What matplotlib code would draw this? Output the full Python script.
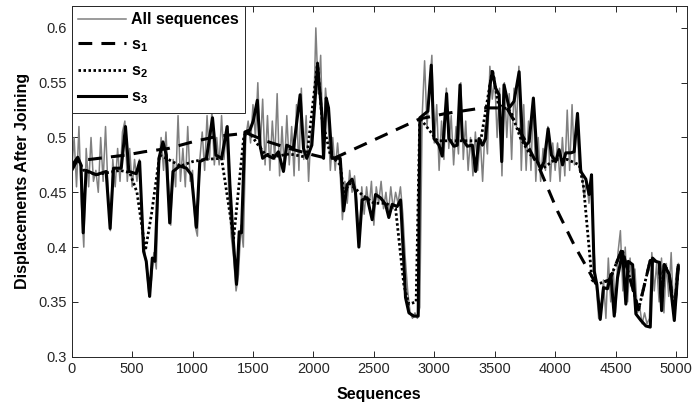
import numpy as np
import matplotlib.pyplot as plt

plt.rcParams['font.family'] = ['Liberation Sans', 'DejaVu Sans']
plt.rcParams['mathtext.fontset'] = 'custom'
plt.rcParams['mathtext.rm'] = 'Liberation Sans:bold'
plt.rcParams['mathtext.bf'] = 'Liberation Sans:bold'
plt.rcParams['mathtext.default'] = 'bf'

all_x = np.arange(0, 5021, 20)
all_y = [
    0.47, 0.50, 0.455, 0.51, 0.44, 0.40, 0.49, 0.455, 0.50, 0.46,
    0.47, 0.45, 0.50, 0.46, 0.51, 0.455, 0.415, 0.48, 0.455, 0.49,
    0.46, 0.505, 0.515, 0.46, 0.49, 0.455, 0.48, 0.46, 0.48, 0.43,
    0.40, 0.38, 0.355, 0.37, 0.395, 0.38, 0.47, 0.50, 0.47, 0.505,
    0.46, 0.42, 0.48, 0.455, 0.52, 0.46, 0.49, 0.455, 0.51, 0.46,
    0.47, 0.42, 0.41, 0.48, 0.505, 0.47, 0.52, 0.48, 0.525, 0.475,
    0.50, 0.475, 0.52, 0.48, 0.51, 0.45, 0.41, 0.39, 0.36, 0.375,
    0.42, 0.40, 0.50, 0.515, 0.495, 0.53, 0.50, 0.55, 0.49, 0.535,
    0.475, 0.52, 0.47, 0.515, 0.48, 0.54, 0.465, 0.51, 0.47, 0.52,
    0.475, 0.51, 0.465, 0.53, 0.47, 0.545, 0.48, 0.52, 0.46, 0.505,
    0.51, 0.60, 0.54, 0.575, 0.49, 0.545, 0.52, 0.47, 0.50, 0.47,
    0.495, 0.47, 0.425, 0.46, 0.44, 0.47, 0.45, 0.465, 0.44, 0.40,
    0.455, 0.43, 0.455, 0.435, 0.46, 0.42, 0.455, 0.44, 0.46, 0.435,
    0.45, 0.43, 0.455, 0.435, 0.45, 0.44, 0.455, 0.43, 0.39, 0.36,
    0.34, 0.335, 0.34, 0.335, 0.345, 0.52, 0.57, 0.51, 0.545, 0.575,
    0.495, 0.53, 0.47, 0.515, 0.48, 0.545, 0.49, 0.52, 0.475, 0.51,
    0.485, 0.55, 0.48, 0.515, 0.47, 0.50, 0.465, 0.505, 0.47, 0.50,
    0.46, 0.51, 0.485, 0.565, 0.535, 0.555, 0.50, 0.545, 0.465, 0.55,
    0.50, 0.54, 0.48, 0.545, 0.51, 0.565, 0.47, 0.53, 0.47, 0.515,
    0.47, 0.535, 0.46, 0.50, 0.46, 0.49, 0.47, 0.51, 0.46, 0.495,
    0.47, 0.495, 0.46, 0.50, 0.465, 0.525, 0.47, 0.53, 0.475, 0.52,
    0.47, 0.47, 0.445, 0.46, 0.44, 0.465, 0.40, 0.365, 0.335, 0.345,
    0.37, 0.335, 0.39, 0.35, 0.38, 0.34, 0.395, 0.415, 0.36, 0.40,
    0.35, 0.39, 0.36, 0.38, 0.34, 0.345, 0.33, 0.34, 0.33, 0.335,
    0.395, 0.36, 0.385, 0.35, 0.39, 0.34, 0.385, 0.355, 0.395, 0.34,
    0.375, 0.385,
]

s1_x = [0, 50, 150, 450, 600, 800, 1000, 1200, 1450, 1600, 1800, 2000, 2150,
        2880, 3100, 3400, 3600, 3743, 3881, 4019, 4157, 4295, 4340, 4450,
        4553, 4690, 4787, 4834, 4862, 4881, 4903, 4944, 4986, 5019]
s1_y = [0.47, 0.48, 0.48, 0.484, 0.487, 0.49, 0.496, 0.501, 0.504, 0.497,
        0.49, 0.484, 0.48, 0.517, 0.522, 0.527, 0.527, 0.499, 0.469, 0.433,
        0.402, 0.375, 0.366, 0.37, 0.398, 0.343, 0.388, 0.387, 0.386, 0.35,
        0.384, 0.375, 0.34, 0.383]

s2_x = [0, 50, 100, 200, 300, 400, 480, 540, 610, 660, 728, 800, 900, 1000,
        1100, 1240, 1340, 1425, 1470, 1530, 1600, 1700, 1800, 1945, 2034,
        2070, 2140, 2222, 2250, 2300, 2400, 2500, 2600, 2680, 2749, 2790,
        2850, 2880, 2970, 3025, 3384, 3481, 3530, 3632, 3715, 3790, 3850,
        3900, 4000, 4100, 4200, 4235, 4305, 4346, 4450, 4553, 4690, 4787,
        4834, 4862, 4881, 4903, 4944, 4986, 5019]
s2_y = [0.474, 0.48, 0.47, 0.466, 0.468, 0.47, 0.468, 0.45, 0.397, 0.43,
        0.484, 0.48, 0.474, 0.478, 0.48, 0.481, 0.408, 0.502, 0.505, 0.495,
        0.485, 0.483, 0.485, 0.482, 0.568, 0.518, 0.484, 0.475, 0.45, 0.458,
        0.448, 0.44, 0.44, 0.435, 0.365, 0.348, 0.35, 0.518, 0.505, 0.497,
        0.497, 0.562, 0.53, 0.524, 0.499, 0.485, 0.478, 0.472, 0.48, 0.48,
        0.475, 0.455, 0.37, 0.366, 0.37, 0.398, 0.343, 0.388, 0.387, 0.386,
        0.35, 0.384, 0.375, 0.34, 0.383]

s3_x = [0, 50, 77, 95, 119, 202, 285, 318, 346, 410, 445, 473, 534, 562, 595,
        617, 645, 667, 689, 722, 755, 783, 811, 838, 894, 949, 990, 1032,
        1060, 1115, 1165, 1193, 1240, 1287, 1309, 1336, 1364, 1386, 1405,
        1433, 1475, 1502, 1536, 1558, 1580, 1613, 1669, 1710, 1752, 1779,
        1835, 1890, 1918, 1945, 1987, 2034, 2070, 2084, 2106, 2125, 2153,
        2194, 2222, 2250, 2279, 2320, 2348, 2376, 2403, 2445, 2486, 2514,
        2555, 2597, 2624, 2652, 2693, 2721, 2749, 2762, 2790, 2831, 2867,
        2881, 2914, 2947, 2975, 2997, 3039, 3066, 3102, 3121, 3163, 3190,
        3213, 3232, 3273, 3315, 3342, 3370, 3398, 3425, 3461, 3481, 3508,
        3536, 3558, 3577, 3619, 3660, 3702, 3729, 3757, 3785, 3820, 3853,
        3881, 3909, 3942, 3969, 4005, 4033, 4061, 4088, 4130, 4157, 4185,
        4212, 4254, 4281, 4301, 4323, 4345, 4373, 4400, 4433, 4461, 4489,
        4516, 4558, 4585, 4605, 4641, 4668, 4710, 4751, 4787, 4806, 4834,
        4862, 4881, 4903, 4944, 4986, 5019]
s3_y = [0.474, 0.482, 0.475, 0.413, 0.47, 0.466, 0.469, 0.417, 0.472, 0.472,
        0.51, 0.469, 0.467, 0.478, 0.396, 0.387, 0.355, 0.39, 0.387, 0.481,
        0.496, 0.484, 0.422, 0.469, 0.474, 0.472, 0.466, 0.418, 0.478, 0.481,
        0.518, 0.484, 0.481, 0.51, 0.457, 0.408, 0.366, 0.414, 0.413, 0.505,
        0.507, 0.515, 0.534, 0.493, 0.481, 0.484, 0.481, 0.487, 0.469, 0.493,
        0.49, 0.539, 0.49, 0.481, 0.493, 0.566, 0.521, 0.481, 0.536, 0.527,
        0.481, 0.481, 0.481, 0.433, 0.457, 0.462, 0.45, 0.40, 0.443, 0.445,
        0.425, 0.448, 0.445, 0.439, 0.427, 0.439, 0.437, 0.443, 0.384, 0.354,
        0.34, 0.337, 0.337, 0.518, 0.521, 0.524, 0.566, 0.499, 0.493, 0.483,
        0.54, 0.499, 0.492, 0.493, 0.548, 0.499, 0.492, 0.493, 0.469, 0.499,
        0.493, 0.499, 0.548, 0.56, 0.545, 0.539, 0.478, 0.548, 0.527, 0.533,
        0.56, 0.499, 0.493, 0.496, 0.536, 0.478, 0.471, 0.478, 0.508, 0.484,
        0.478, 0.489, 0.475, 0.486, 0.486, 0.487, 0.522, 0.469, 0.462, 0.448,
        0.466, 0.378, 0.366, 0.334, 0.363, 0.362, 0.375, 0.337, 0.372, 0.396,
        0.348, 0.387, 0.384, 0.339, 0.333, 0.328, 0.327, 0.39, 0.387, 0.386,
        0.342, 0.384, 0.375, 0.333, 0.383]

fig = plt.figure(figsize=(6.92, 4.07), dpi=100)
ax = fig.add_axes([0.1036, 0.1236, 0.889, 0.8617])

ax.plot(all_x, all_y, color='0.5', lw=1.1, label='All sequences')
ax.plot(s1_x, s1_y, color='k', lw=2.2, dashes=(4.5, 3), label='s$_1$')
ax.plot(s2_x, s2_y, color='k', lw=2.0, dashes=(0.9, 0.9), label='s$_2$')
ax.plot(s3_x, s3_y, color='k', lw=2.2, label='s$_3$')

ax.set_xlim(0, 5090)
ax.set_ylim(0.3, 0.62)
ax.set_xticks(range(0, 5001, 500))
ax.set_yticks([0.3, 0.35, 0.4, 0.45, 0.5, 0.55, 0.6])
ax.set_yticklabels(['0.3', '0.35', '0.4', '0.45', '0.5', '0.55', '0.6'])
ax.tick_params(direction='in', top=True, right=True, labelsize=10.5,
               colors='0.15', length=4, width=0.7)
for sp in ax.spines.values():
    sp.set_color('0.15')
    sp.set_linewidth(0.7)

ax.set_xlabel('Sequences', fontsize=11.5, fontweight='bold', labelpad=8)
ax.set_ylabel('Displacements After Joining', fontsize=11.5, fontweight='bold',
              labelpad=6)

leg = ax.legend(loc='upper left', borderaxespad=0, fancybox=False,
                framealpha=1, edgecolor='0.15', handlelength=3.0,
                handletextpad=0.3, labelspacing=0.6,
                prop={'weight': 'bold', 'size': 11.5})
leg.get_frame().set_linewidth(0.7)

fig.savefig('out.png', dpi=100)
